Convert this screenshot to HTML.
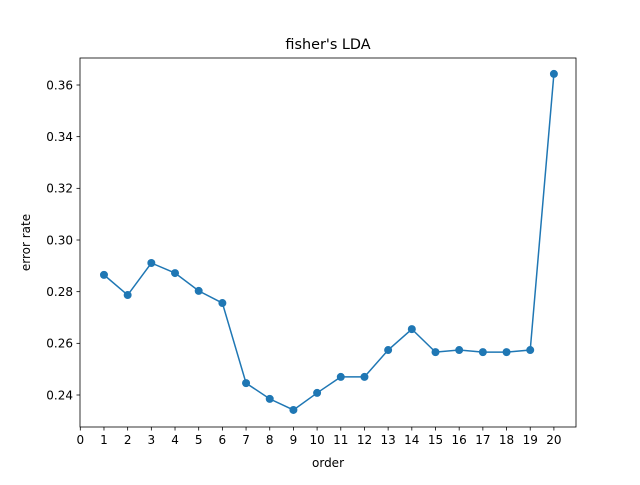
<!DOCTYPE html>
<html><head><meta charset="utf-8"><style>
body{margin:0;background:#fff}
svg text{font-family:"DejaVu Sans","Liberation Sans",sans-serif;fill:#000}
</style></head><body>
<svg id="chart" width="640" height="480" xmlns="http://www.w3.org/2000/svg">
<rect width="640" height="480" fill="#fff"/>
<text x="328" y="49" font-size="14.4" text-anchor="middle">fisher's LDA</text>
<g id="xticks"></g><g id="yticks"></g>
<path id="line" fill="none" stroke="#1f77b4" stroke-width="1.5"/>
<g id="pts"></g>
<rect x="80" y="58" width="496" height="369" fill="none" stroke="#000" stroke-width="0.8"/>
<text x="328" y="467" font-size="12" text-anchor="middle">order</text>
<text x="0" y="0" font-size="12" text-anchor="middle" transform="translate(30,242.5) rotate(-90)">error rate</text>
</svg>
<script>
const orders=[1,2,3,4,5,6,7,8,9,10,11,12,13,14,15,16,17,18,19,20];
const errorRates=[0.2865,0.2787,0.2911,0.2872,0.2803,0.2756,0.2446,0.2385,0.2342,0.2408,0.2470,0.2470,0.2574,0.2655,0.2566,0.2574,0.2566,0.2566,0.2574,0.3643];
const xTickLabels=[0,1,2,3,4,5,6,7,8,9,10,11,12,13,14,15,16,17,18,19,20];
const yTickLabels=[0.24,0.26,0.28,0.30,0.32,0.34,0.36];
const NS="http://www.w3.org/2000/svg";
const X=v=>80.3+v*23.68;
const Y=v=>395-(v-0.24)*2583.3;
function mk(t,a,p){const e=document.createElementNS(NS,t);for(const k in a)e.setAttribute(k,a[k]);p.appendChild(e);return e;}
const xg=document.getElementById('xticks');
xTickLabels.forEach(v=>{const x=X(v);
 const l=mk('line',{x1:x,x2:x,y1:427,y2:430.5,stroke:'#000','stroke-width':0.8},xg);
 
 
 const t=mk('text',{x:x,y:444,'font-size':12,'text-anchor':'middle'},xg);t.textContent=v;
 
 });
const yg=document.getElementById('yticks');
yTickLabels.forEach(v=>{const y=Y(v);
 const l=mk('line',{x1:76.5,x2:80,y1:y,y2:y,stroke:'#000','stroke-width':0.8},yg);
 
 
 const t=mk('text',{x:73,y:y+4.3,'font-size':12,'text-anchor':'end'},yg);t.textContent=v.toFixed(2);
 
 });
document.getElementById('line').setAttribute('d',orders.map((o,i)=>(i?'L':'M')+X(o)+','+Y(errorRates[i])).join(''));
const pg=document.getElementById('pts');
orders.forEach((o,i)=>{const c=mk('circle',{cx:X(o),cy:Y(errorRates[i]),r:4,fill:'#1f77b4'},pg);
 
 });
</script>
</body></html>
